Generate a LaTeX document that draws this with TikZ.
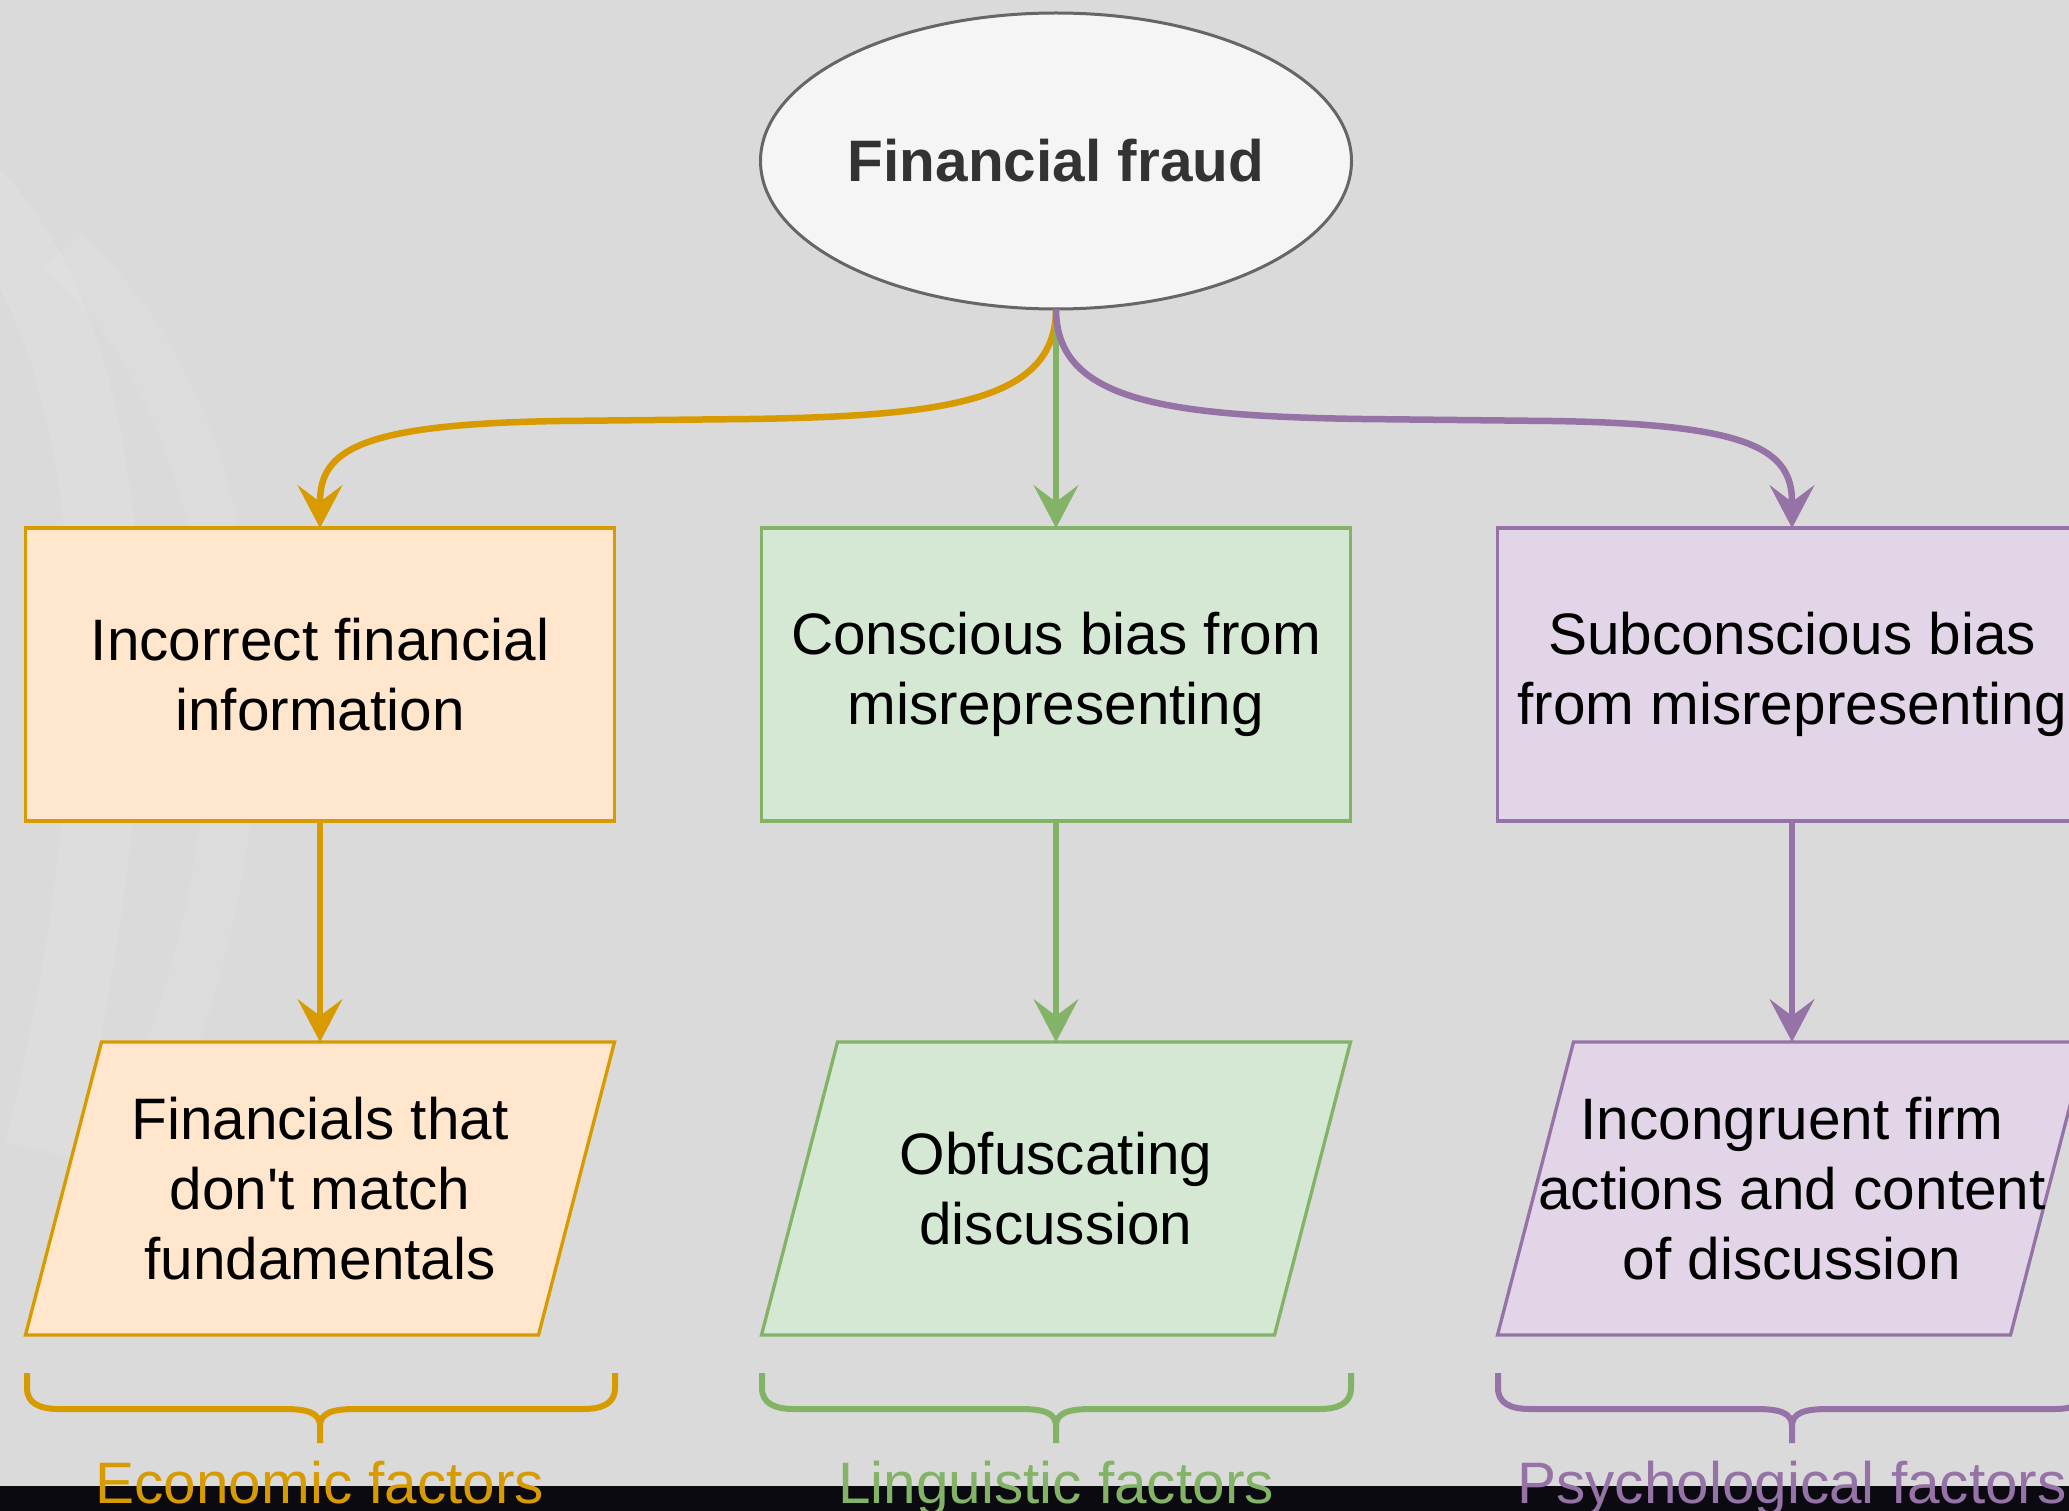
\documentclass[tikz,border=0pt]{standalone}
\usepackage{fontspec}
\setmainfont{Liberation Sans}
\usetikzlibrary{shapes.geometric, arrows.meta, calc}
\definecolor{bg}{RGB}{218,218,218}
\definecolor{orS}{HTML}{D79B00}\definecolor{orF}{HTML}{FFE6CC}
\definecolor{grS}{HTML}{82B366}\definecolor{grF}{HTML}{D5E8D4}
\definecolor{puS}{HTML}{9673A6}\definecolor{puF}{HTML}{E1D5E7}
\definecolor{elF}{HTML}{F5F5F5}\definecolor{elS}{HTML}{666666}
\definecolor{txD}{HTML}{333333}\definecolor{barK}{HTML}{0A0A10}
\newcommand\mypara[3]{% center x, center y, color prefix
  \fill[#3F] (#1-294.5+76,#2-146.5) -- (#1+294.5,#2-146.5) -- (#1+294.5-76,#2+146.5) -- (#1-294.5,#2+146.5) -- cycle;
  \draw[#3S, line width=3.3pt, line join=miter] (#1-294.5+76,#2-146.5) -- (#1+294.5,#2-146.5) -- (#1+294.5-76,#2+146.5) -- (#1-294.5,#2+146.5) -- cycle;}
\newcommand\mybrace[4]{% xL, xc, xR, color
  \draw[#4, line width=6pt, line join=round]
    (#1,1373) -- (#1,1388) .. controls (#1,1403) and (#1+12,1409) .. (#1+32,1409)
    -- (#2-36,1409) .. controls (#2-12,1409) and (#2,1413) .. (#2,1426) -- (#2,1443);
  \draw[#4, line width=6pt, line join=round]
    (#2,1426) .. controls (#2,1413) and (#2+12,1409) .. (#2+36,1409)
    -- (#3-32,1409) .. controls (#3-12,1409) and (#3,1403) .. (#3,1388) -- (#3,1373);}
\begin{document}
\begin{tikzpicture}[x=1pt,y=-1pt,
  every node/.style={font=\fontsize{58.5pt}{70pt}\selectfont, align=center, inner sep=0pt, outer sep=0pt},
  rbox/.style={draw=#1S, fill=#1F, line width=3.3pt, minimum width=589pt, minimum height=293pt},
  pbox/.style={minimum width=589pt, minimum height=293pt},
  conn/.style={draw=#1, line width=6.5pt, -{Stealth[length=43pt, width=45pt, inset=17pt, line width=0.5pt, fill=#1]}},
  lbl/.style={anchor=base, text=#1}]
\useasboundingbox (0,0) rectangle (2069,1511);
\fill[bg] (0,0) rectangle (2069,1511);
% faint background swirl
\draw[white, opacity=0.09, line width=70pt] (-40,180) .. controls (120,320) and (150,700) .. (40,1150);
\draw[white, opacity=0.06, line width=50pt] (60,250) .. controls (260,420) and (280,800) .. (150,1100);
\fill[barK] (0,1486) rectangle (2069,1511);

% top ellipse
\node[ellipse, draw=elS, fill=elF, line width=3pt, minimum width=591pt, minimum height=296pt, text=txD] (ff) at (1056,161) {\bfseries Financial fraud};

% row 1
\node[rbox=or] (b1) at (320,674.5) {Incorrect financial\\information};
\node[rbox=gr] (b2) at (1056,674.5) {Conscious bias from\\misrepresenting};
\node[rbox=pu] (b3) at (1792,674.5) {Subconscious bias\\from misrepresenting};

% row 2
\mypara{320}{1188.5}{or}
\mypara{1056}{1188.5}{gr}
\mypara{1792}{1188.5}{pu}
\node[pbox] (p1) at (320,1188.5) {Financials that\\don\textquotesingle t match\\fundamentals};
\node[pbox] (p2) at (1056,1188.5) {Obfuscating\\discussion};
\node[pbox] (p3) at (1792,1188.5) {Incongruent firm\\actions and content\\of discussion};

% connectors
\coordinate (oh1) at (750,419);
\coordinate (oh2) at (560,421);
\coordinate (ph1) at (1362,419);
\coordinate (ph2) at (1552,421);
\draw[conn=orS] (ff.south) .. controls (1056,400) and (950,416) .. (oh1) -- (oh2) .. controls (360,424) and (320,450) .. (b1.north);
\draw[conn=grS] (ff.south) -- (b2.north);
\draw[conn=puS] (ff.south) .. controls (1056,400) and (1162,416) .. (ph1) -- (ph2) .. controls (1752,424) and (1792,450) .. (b3.north);
\draw[conn=orS] (b1.south) -- (p1.north);
\draw[conn=grS] (b2.south) -- (p2.north);
\draw[conn=puS] (b3.south) -- (p3.north);

% braces
\mybrace{27}{320}{615}{orS}
\mybrace{762}{1056}{1351}{grS}
\mybrace{1498}{1792}{2087}{puS}

% labels
\node[lbl=orS] (l1) at (320,1503) {Economic factors};
\node[lbl=grS] (l2) at (1056,1503) {Linguistic factors};
\node[lbl=puS] (l3) at (1792,1503) {Psychological factors};
\end{tikzpicture}
\end{document}
